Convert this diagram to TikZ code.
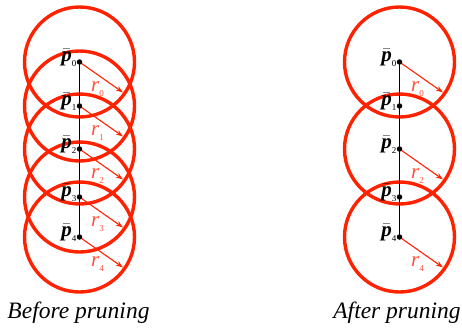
\documentclass[tikz,border=0pt]{standalone}
\usepackage{fontspec}
\setmainfont{Liberation Serif}
\usetikzlibrary{arrows.meta,calc}
\definecolor{circred}{RGB}{255,34,0}
\definecolor{labred}{RGB}{255,80,60}
\newcommand{\pbar}[1]{$\bar{\mbox{\bfseries\itshape p}}$\raisebox{-0.55ex}{\fontsize{9}{9}\selectfont #1}}
\newcommand{\rlab}[1]{{\itshape r}\raisebox{-0.6ex}{\fontsize{9}{9}\selectfont #1}}
\begin{document}
\begin{tikzpicture}[x=1pt,y=-1pt,
  ring/.style={draw=circred,line width=3.4pt},
  rarrow/.style={draw=circred,line width=1.1pt,-{Stealth[length=7pt,width=5pt]}},
  spine/.style={draw=black,line width=1.6pt},
  pdot/.style={circle,fill=black,inner sep=0pt,minimum size=5.5pt},
  plab/.style={anchor=east,font=\fontsize{21}{21}\selectfont,inner sep=0pt},
  rlabel/.style={text=labred,font=\fontsize{21}{21}\selectfont,inner sep=0pt},
  caption/.style={font=\fontsize{23.5}{23.5}\selectfont\itshape,inner sep=0pt}]
\useasboundingbox (0,0) rectangle (462,333);
% left column points
\coordinate (L0) at (79.5,62);
\coordinate (L1) at (79.5,106);
\coordinate (L2) at (79.5,149);
\coordinate (L3) at (79.5,197);
\coordinate (L4) at (79.5,237);
% right column points
\coordinate (R0) at (399.5,62);
\coordinate (R1) at (399.5,106);
\coordinate (R2) at (399.5,149);
\coordinate (R3) at (399.5,197);
\coordinate (R4) at (399.5,237);
% circles
\foreach \c in {L0,L1,L2,L3,L4,R0,R2,R4}
  \draw[ring] (\c) circle (55);
% arrow tips on circles
\foreach \c in {L0,L1,L2,L3,L4,R0,R2,R4}
  \coordinate (\c t) at ($(\c)+(35:53)$);
% spines
\draw[spine] (L0) -- (L4);
\draw[spine] (R0) -- (R4);
% arrows
\foreach \c in {L0,L1,L2,L3,L4,R0,R2,R4}
  \draw[rarrow] (\c) -- (\c t);
% dots
\foreach \c in {L0,L1,L2,L3,L4,R0,R1,R2,R3,R4}
  \node[pdot] (\c d) at (\c) {};
% p labels
\foreach \i in {0,...,4}{
  \node[plab] (pl\i) at ($(L\i)+(-3,-4)$) {\pbar{\i}};
  \node[plab] (pr\i) at ($(R\i)+(-3,-4)$) {\pbar{\i}};
}
% r labels
\foreach \i in {0,...,4}
  \node[rlabel] (rl\i) at ($(L\i)+(18,27)$) {\rlab{\i}};
\foreach \i in {0,2,4}
  \node[rlabel] (rr\i) at ($(R\i)+(18,27)$) {\rlab{\i}};
% captions
\node[caption] (capL) at (78.5,313) {Before pruning};
\node[caption] (capR) at (397,313) {After pruning};
\end{tikzpicture}
\end{document}
